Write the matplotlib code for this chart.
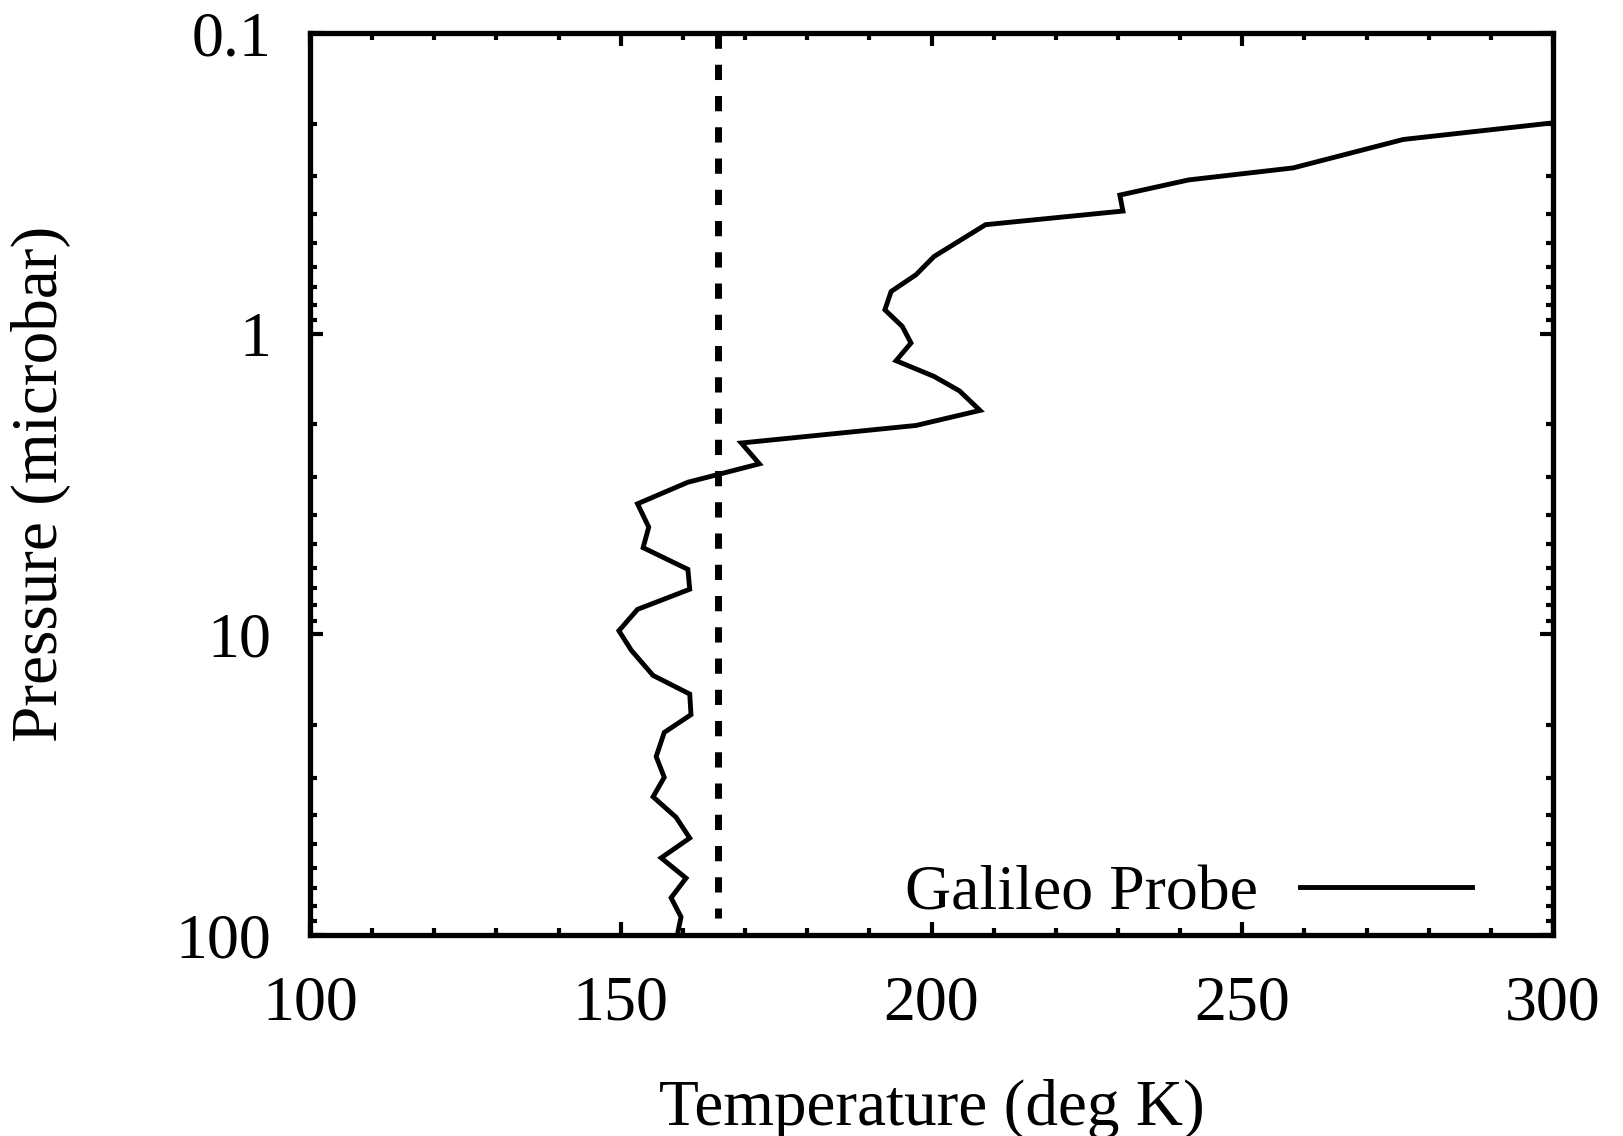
import matplotlib
matplotlib.use("Agg")
import matplotlib.pyplot as plt
from matplotlib.ticker import MultipleLocator, LogLocator, FixedLocator, FixedFormatter, NullFormatter

# Galileo Probe temperature profile
pressure = [0.199, 0.226, 0.281, 0.308, 0.346, 0.391, 0.434, 0.554, 0.637, 0.724,
            0.833, 0.946, 1.074, 1.23, 1.387, 1.55, 1.80, 2.02, 2.31, 2.71,
            3.12, 3.68, 4.40, 5.15, 6.08, 7.08, 8.26, 9.73, 11.3, 13.7,
            15.8, 18.5, 21.2, 25.5, 29.9, 34.7, 40.6, 47.6, 55.4, 64.7,
            75.2, 87.1, 97.7, 100.0]
temperature = [300.0, 275.9, 258.2, 241.4, 230.3, 230.8, 208.7, 200.4, 197.5, 193.5,
               192.5, 195.3, 196.7, 194.3, 200.4, 204.5, 207.8, 197.5, 169.4, 172.3,
               160.8, 152.7, 154.5, 153.6, 160.8, 161.1, 152.7, 149.7, 151.7, 155.2,
               161.1, 161.3, 157.0, 155.7, 157.0, 155.2, 158.9, 161.1, 156.5, 160.5,
               158.1, 159.7, 159.2, 159.3]
threshold_T = 165.7

x_ticks = [100, 150, 200, 250, 300]
y_ticks = [0.1, 1, 10, 100]
y_ticklabels = ["0.1", "1", "10", "100"]

plt.rcParams['font.family'] = ['Liberation Serif', 'DejaVu Serif']

fig = plt.figure(figsize=(16.23, 11.36), dpi=100)
ax = fig.add_axes([310/1623, 1 - 935/1136, (1553-310)/1623, (935-33)/1136])

ax.plot(temperature, pressure, color='black', lw=3.5, solid_joinstyle='miter',
        label='Galileo Probe')
ax.plot([threshold_T, threshold_T], [0.1, 88], color='black', lw=5.0,
        dashes=(2.2, 2.3), solid_capstyle='butt', dash_capstyle='butt')

ax.set_yscale('log')
ax.set_xlim(100, 300)
ax.set_ylim(100, 0.1)

ax.xaxis.set_major_locator(FixedLocator(x_ticks))
ax.xaxis.set_minor_locator(MultipleLocator(10))
ax.yaxis.set_major_locator(FixedLocator(y_ticks))
ax.yaxis.set_major_formatter(FixedFormatter(y_ticklabels))
ax.yaxis.set_minor_locator(LogLocator(base=10, subs=range(2, 10), numticks=20))
ax.yaxis.set_minor_formatter(NullFormatter())

for s in ax.spines.values():
    s.set_linewidth(3.8)

ax.tick_params(which='both', direction='in', top=True, right=True, width=3.0)
ax.tick_params(which='major', length=9.5, labelsize=46)
ax.tick_params(which='minor', length=5)
ax.tick_params(axis='x', which='major', pad=29)
ax.tick_params(axis='y', which='major', pad=28)

ax.set_xlabel('Temperature (deg K)', fontsize=47)
ax.set_ylabel('Pressure (microbar)', fontsize=47)
ax.xaxis.set_label_coords(0.5, (935-1079)/902)
ax.yaxis.set_label_coords((71-310)/1243, 0.5)

leg = ax.legend(loc='center right', bbox_to_anchor=((1472-310)/1243, (935-894)/902),
                frameon=False, markerfirst=False, fontsize=46, handlelength=2.7,
                handletextpad=0.65, borderpad=0, borderaxespad=0)

fig.savefig('out.png', dpi=100, facecolor='white')
